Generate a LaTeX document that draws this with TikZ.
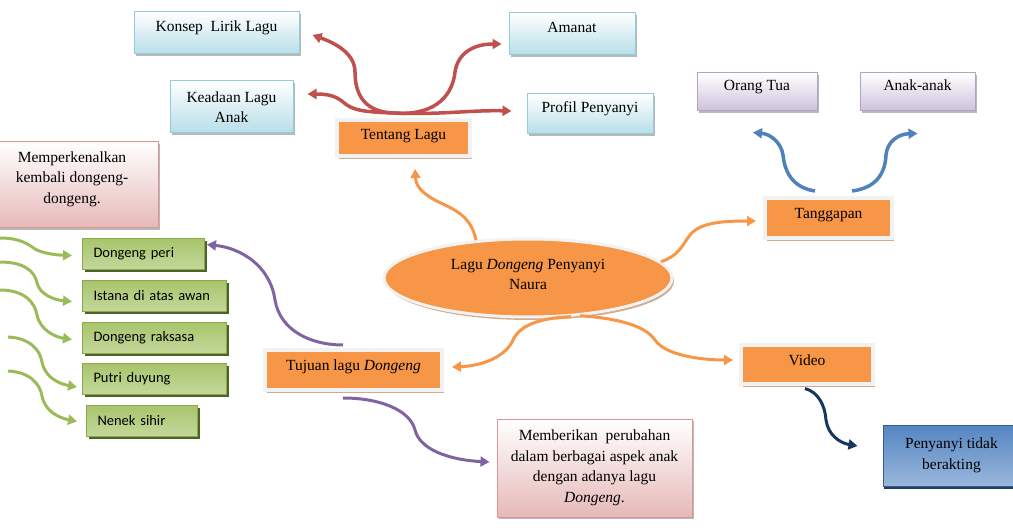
\documentclass[tikz,border=0pt]{standalone}
\usepackage{fontspec}
\setmainfont{Liberation Serif}
\newfontfamily\calibrifont{Carlito}
\usetikzlibrary{positioning,shadows,arrows.meta,shapes.geometric}

\definecolor{topicorange}{HTML}{F79646}
\definecolor{topicrim}{HTML}{F2F2F2}
\definecolor{tanshadow}{HTML}{D2AB8C}
\definecolor{linered}{HTML}{C0504D}
\definecolor{lineblue}{HTML}{4F81BD}
\definecolor{linepurple}{HTML}{8064A2}
\definecolor{linegreen}{HTML}{9BBB59}
\definecolor{linenavy}{HTML}{17375E}
\definecolor{aquaedge}{HTML}{93CDDD}
\definecolor{aquafill}{HTML}{B7DEE8}
\definecolor{lilacedge}{HTML}{B3A2C7}
\definecolor{lilacfill}{HTML}{CCC1DA}
\definecolor{roseedge}{HTML}{D99694}
\definecolor{rosefill}{HTML}{E6B9B8}
\definecolor{leaftop}{HTML}{A8C56C}
\definecolor{leafmid}{HTML}{9DBD5C}
\definecolor{leafbottom}{HTML}{C4D89C}
\definecolor{leafedge}{HTML}{8AAA4A}
\definecolor{leafshadow}{HTML}{4F6228}
\definecolor{steeltop}{HTML}{5585C1}
\definecolor{steelbottom}{HTML}{9AB7DC}
\definecolor{steeledge}{HTML}{385D8A}
\definecolor{steelshadow}{HTML}{243F60}

\tikzset{
  every node/.style={font=\fontsize{15.5}{20.5}\selectfont},
  topic/.style={draw=topicrim, line width=4pt, fill=topicorange,
    text height=10pt, text depth=9pt,
    drop shadow={shadow xshift=2pt, shadow yshift=-3pt, fill=tanshadow, opacity=1}},
  note/.style={line width=1pt, align=center,
    drop shadow={shadow xshift=2pt, shadow yshift=-2pt, fill=black!35, opacity=.8}},
  aqua/.style={note, draw=aquaedge, top color=white, bottom color=aquafill},
  lilac/.style={note, draw=lilacedge, top color=white, bottom color=lilacfill},
  rose/.style={note, draw=roseedge, top color=white, bottom color=rosefill},
  oneline/.style={text height=10pt, text depth=12pt},
  leaf/.style={draw=leafedge, line width=1pt, top color=leaftop, middle color=leafmid,
    bottom color=leafbottom, align=left, inner xsep=11pt, minimum height=31pt,
    font=\calibrifont\fontsize{14.5}{17}\selectfont,
    drop shadow={shadow xshift=2pt, shadow yshift=-2pt, fill=leafshadow, opacity=1}},
  link/.style={line width=3pt, -{Triangle[length=9pt, width=10pt]}}
}

\begin{document}
\begin{tikzpicture}[x=1pt, y=-1pt]
  \useasboundingbox (0,0) rectangle (1013,532);

  \node[draw=topicrim, line width=3pt, fill=topicorange, ellipse, minimum width=288pt, minimum height=78pt,
    align=center, text depth=7pt, drop shadow={shadow xshift=2pt, shadow yshift=-3pt, fill=tanshadow, opacity=1}]
    (naura) at (528,278) {Lagu \textit{Dongeng} Penyanyi\\Naura};

  \node[topic, minimum width=133pt, minimum height=36pt, text depth=7pt] (tentang) at (403.5,138) {Tentang Lagu};
  \node[topic, minimum width=127pt, minimum height=40pt] (tanggapan) at (828.5,218) {Tanggapan};
  \node[topic, minimum width=132pt, minimum height=39pt] (video) at (807,364.5) {Video};
  \node[topic, minimum width=177pt, minimum height=40pt] (tujuan) at (353.5,370) {Tujuan lagu \textit{Dongeng}};

  \node[aqua, oneline, minimum width=165pt, minimum height=42pt] (konsep) at (216.5,33) {Konsep\ \ Lirik Lagu};
  \node[aqua, oneline, minimum width=126pt, minimum height=42pt] (amanat) at (572,34) {Amanat};
  \node[aqua, minimum width=123pt, minimum height=52pt] (keadaan) at (231.5,107) {Keadaan Lagu\\Anak};
  \node[aqua, oneline, minimum width=126pt, minimum height=40pt] (profil) at (590,114) {Profil Penyanyi};

  \node[lilac, oneline, minimum width=120pt, minimum height=38pt] (orangtua) at (757,92) {Orang Tua};
  \node[lilac, oneline, minimum width=115pt, minimum height=38pt, right=42pt of orangtua] (anak) {Anak-anak};

  \node[rose, minimum width=172pt, minimum height=86pt, text depth=15pt] (kenal) at (72,185)
    {Memperkenalkan\\kembali dongeng-\\dongeng.};
  \node[rose, minimum width=195pt, minimum height=98pt] (ubah) at (594.5,468)
    {Memberikan\ \ perubahan\\dalam berbagai aspek anak\\dengan adanya lagu\\\textit{Dongeng}.};

  \node[note, draw=steeledge, top color=steeltop, bottom color=steelbottom, minimum width=137pt, minimum height=61pt,
    drop shadow={shadow xshift=1pt, shadow yshift=-3pt, fill=steelshadow, opacity=1}]
    (akting) at (951.5,455.5) {Penyanyi tidak\\berakting};

  \node[leaf, text width=100pt, anchor=north west] (peri) at (82,238) {Dongeng peri};
  \node[leaf, text width=122pt, below=10pt of peri.south west, anchor=north west] (istana) {Istana di atas awan};
  \node[leaf, text width=122pt, below=10pt of istana.south west, anchor=north west] (raksasa) {Dongeng raksasa};
  \node[leaf, text width=122pt, below=9pt of raksasa.south west, anchor=north west] (putri) {Putri duyung};
  \node[leaf, text width=89pt, below=10pt of putri.south west, anchor=north west, xshift=4pt] (nenek) {Nenek sihir};

  \coordinate (tlroot) at ([xshift=-10pt, yshift=5pt]tentang.north);
  \draw[link, linered, line width=3.5pt] (tlroot) .. controls (365,112) and (355,95) .. (355,72)
    .. controls (355,52) and (332,42) .. ([xshift=13pt, yshift=-2pt]konsep.east);
  \draw[link, linered, line width=3.5pt] (tlroot) .. controls (362,112) and (352,110) .. (343,102)
    .. controls (335,95) and (325,94) .. ([xshift=14pt, yshift=13pt]keadaan.east);
  \draw[link, linered, line width=3.5pt] (tlroot) .. controls (430,116) and (452,100) .. (455,72)
    .. controls (458,52) and (475,44) .. ([xshift=-7pt, yshift=-10pt]amanat.west);
  \draw[link, linered, line width=3.5pt] (tlroot) .. controls (440,115) and (470,110)
    .. ([xshift=-15pt, yshift=3pt]profil.west);

  \draw[link, topicorange] (naura.144) .. controls (472,220) and (460,212) .. (445,205)
    .. controls (425,196) and (416,188) .. ([xshift=11.5pt, yshift=-11pt]tentang.south);
  \draw[link, topicorange] (naura.7) .. controls (680,255) and (682,245) .. (690,235)
    .. controls (700,222) and (725,221) .. ([xshift=-7pt, yshift=-3pt]tanggapan.west);
  \draw[link, topicorange] (naura.324) .. controls (615,318) and (645,325) .. (655,340)
    .. controls (665,355) and (700,360) .. ([xshift=-6pt, yshift=4.5pt]video.west);
  \draw[link, topicorange] (naura.318) .. controls (540,318) and (520,325) .. (513,340)
    .. controls (505,358) and (480,366) .. ([xshift=8pt, yshift=3pt]tujuan.east);

  \draw[link, lineblue, line width=3.5pt] ([xshift=-13.5pt, yshift=5pt]tanggapan.north) .. controls (795,188) and (785,175) .. (783,155)
    .. controls (781,142) and (770,134) .. ([xshift=-4pt, yshift=-21pt]orangtua.south);
  \draw[link, lineblue, line width=3.5pt] ([xshift=23.5pt, yshift=5pt]tanggapan.north) .. controls (875,188) and (885,175) .. (886,155)
    .. controls (887,142) and (898,134) .. ([yshift=-22pt]anak.south);

  \draw[link, linepurple] ([xshift=-10.5pt, yshift=3pt]tujuan.north) .. controls (310,345) and (280,330) .. (275,300)
    .. controls (270,265) and (240,248) .. ([xshift=2pt, yshift=9.5pt]peri.east);
  \draw[link, linepurple] ([xshift=-10.5pt, yshift=-6pt]tujuan.south) .. controls (380,398) and (410,410) .. (415,430)
    .. controls (420,450) and (450,460) .. ([xshift=-7pt, yshift=6pt]ubah.west);

  \draw[link, linenavy] ([xshift=-2pt, yshift=-2.5pt]video.south) .. controls (818,392) and (825,405) .. (826,420)
    .. controls (828,435) and (840,443) .. ([xshift=-25pt, yshift=9.5pt]akting.west);

  \coordinate (gin1) at (0,238);
  \coordinate (gin2) at (0,262);
  \coordinate (gin3) at (0,290);
  \coordinate (gin4) at (8,337);
  \coordinate (gin5) at (8,371);
  \draw[link, linegreen] (gin1) .. controls (20,238) and (28,244) .. (35,249)
    .. controls (42,253) and (55,255) .. ([xshift=-10pt, yshift=-1.5pt]peri.west);
  \draw[link, linegreen] (gin2) .. controls (25,262) and (35,272) .. (37,283)
    .. controls (40,295) and (55,300) .. ([xshift=-10pt, yshift=-5.5pt]istana.west);
  \draw[link, linegreen] (gin3) .. controls (25,290) and (35,303) .. (37,315)
    .. controls (40,330) and (55,337) .. ([xshift=-10pt, yshift=-1.5pt]raksasa.west);
  \draw[link, linegreen] (gin4) .. controls (30,338) and (40,350) .. (42,362)
    .. controls (45,378) and (60,384) .. ([xshift=-5pt, yshift=-8pt]putri.west);
  \draw[link, linegreen] (gin5) .. controls (30,372) and (40,384) .. (42,396)
    .. controls (45,412) and (60,418) .. ([xshift=-9pt, yshift=-0.5pt]nenek.west);
\end{tikzpicture}
\end{document}
